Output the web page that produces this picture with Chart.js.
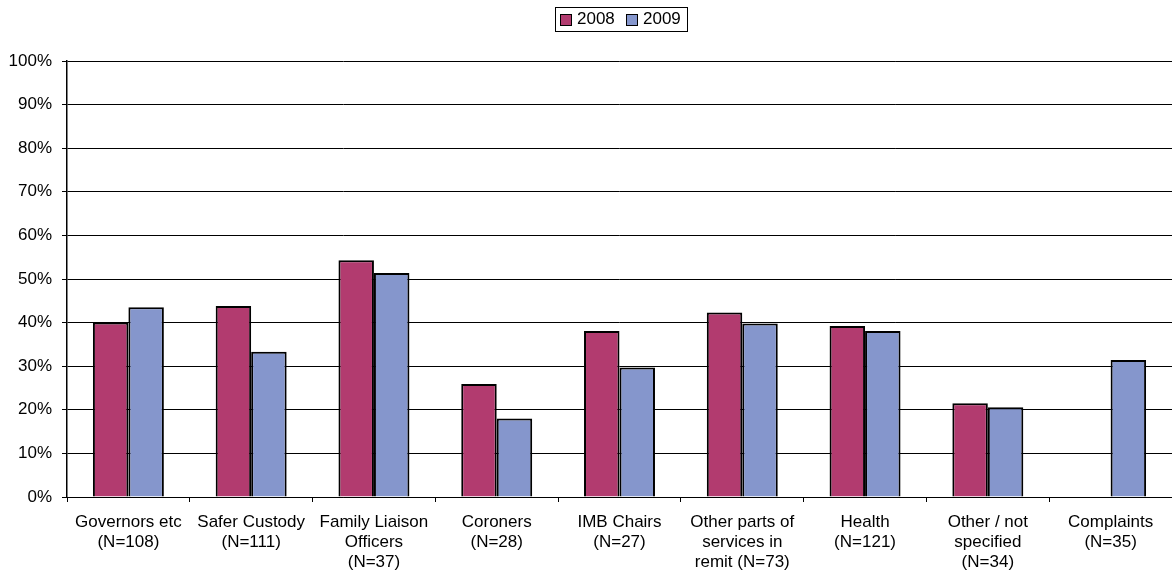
<!DOCTYPE html>
<html>
<head>
<meta charset="utf-8">
<script src="https://cdn.jsdelivr.net/npm/chart.js@4.4.0/dist/chart.umd.min.js"></script>
<style>
    body { margin: 0; background: #FFFFFF; font-family: 'Liberation Sans', Arial, sans-serif; }
    #wrap { position: relative; width: 1172px; height: 572px; }
    #legend {
        position: absolute; left: 555px; top: 7px; width: 131px; height: 23px;
        border: 1px solid #000; font-size: 17px; color: #000;
    }
    .sw { position: absolute; top: 6px; width: 10px; height: 10px; border: 1px solid #000; }
    .lt { position: absolute; top: 1px; line-height: 20px; }
</style>
</head>
<body>
<div id="wrap">
    <canvas id="chart" width="1172" height="572"></canvas>
    <div id="legend"></div>
</div>
<script>
// Categorias e valores
const categories = [
    ['Governors etc', '(N=108)'],
    ['Safer Custody', '(N=111)'],
    ['Family Liaison', 'Officers', '(N=37)'],
    ['Coroners', '(N=28)'],
    ['IMB Chairs', '(N=27)'],
    ['Other parts of', 'services in', 'remit (N=73)'],
    ['Health', '(N=121)'],
    ['Other / not', 'specified', '(N=34)'],
    ['Complaints', '(N=35)']
];
const values2008 = [40.0, 43.8, 54.3, 25.9, 38.1, 42.3, 39.2, 21.5, null];
const values2009 = [43.5, 33.3, 51.4, 18.0, 29.7, 39.8, 38.1, 20.6, 31.4];
const seriesNames = ['2008', '2009'];
const yTicks = [0, 10, 20, 30, 40, 50, 60, 70, 80, 90, 100];

const colors = ['#B23B6F', '#8596CC'];

// Legenda em HTML (com moldura)
const legend = document.getElementById('legend');
seriesNames.forEach((name, i) => {
    const x = 4 + i * 66;
    legend.insertAdjacentHTML('beforeend',
        `<span class="sw" style="left:${x}px;background:${colors[i]}"></span>` +
        `<span class="lt" style="left:${x + 17}px">${name}</span>`);
});

const font = { size: 17, family: "'Liberation Sans', Arial, sans-serif" };

new Chart(document.getElementById('chart').getContext('2d'), {
    type: 'bar',
    data: {
        labels: categories,
        datasets: [
            { label: seriesNames[0], data: values2008, backgroundColor: colors[0], borderColor: '#000', borderWidth: 2 },
            { label: seriesNames[1], data: values2009, backgroundColor: colors[1], borderColor: '#000', borderWidth: 2 }
        ]
    },
    options: {
        responsive: false,
        animation: false,
        categoryPercentage: 0.578,
        barPercentage: 1,
        layout: { padding: { top: 61, right: 0, left: 0, bottom: 0 } },
        plugins: { legend: { display: false }, tooltip: { enabled: false } },
        scales: {
            x: {
                afterFit: axis => { axis.height = 75; },
                grid: { drawOnChartArea: false, drawTicks: true, tickLength: 5, color: '#000', offset: true },
                border: { color: '#000', width: 1 },
                ticks: { color: '#000', font: { ...font, lineHeight: 1.18 }, padding: 10, maxRotation: 0, autoSkip: false }
            },
            y: {
                min: 0,
                max: 100,
                afterBuildTicks: axis => { axis.ticks = yTicks.map(v => ({ value: v })); },
                afterFit: axis => { axis.width = 67; },
                grid: { color: '#000', lineWidth: 1, tickLength: 5 },
                border: { color: '#000', width: 1.5 },
                ticks: { color: '#000', font: font, padding: 10, callback: v => v + '%' }
            }
        }
    }
});
</script>
</body>
</html>
